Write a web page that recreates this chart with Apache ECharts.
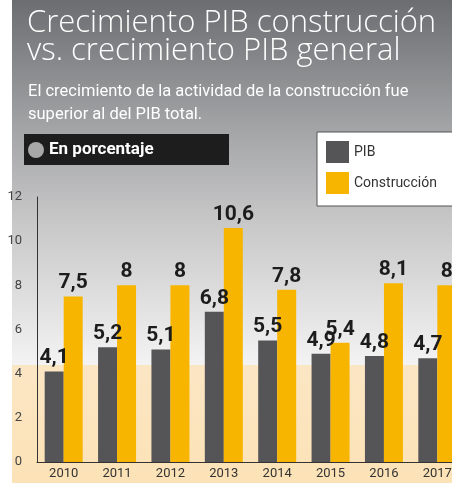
<!DOCTYPE html>
<html>
<head>
<meta charset="utf-8">
<script src="https://cdn.jsdelivr.net/npm/echarts@6/dist/echarts.min.js"></script>
<style>
  html, body { margin: 0; padding: 0; background: #fff; }
  #chart { width: 452px; height: 483px; }
</style>
</head>
<body>
<div id="chart"></div>
<script>
var years = ["2010", "2011", "2012", "2013", "2014", "2015", "2016", "2017"];
var pib = [4.1, 5.2, 5.1, 6.8, 5.5, 4.9, 4.8, 4.7];
var construccion = [7.5, 8, 8, 10.6, 7.8, 5.4, 8.1, 8];
var seriesNames = ["PIB", "Construcción"];

var narrow = "Roboto, sans-serif";

var myChart = echarts.init(document.getElementById("chart"));

function labelFmt(p) {
  return String(p.value).replace(".", ",");
}

var barLabel = {
  show: true,
  position: "top",
  distance: 3,
  formatter: labelFmt,
  fontFamily: narrow,
  fontWeight: "bold",
  fontSize: 21,
  color: "#1c1c1c"
};

var option = {
  backgroundColor: "#fff",
  animation: false,
  title: [
    {
      text: "Crecimiento PIB construcción\nvs. crecimiento PIB general",
      left: 22,
      top: 4,
      textStyle: {
        color: "#fff",
        fontFamily: "'Open Sans', sans-serif",
        fontWeight: 300,
        fontSize: 31,
        lineHeight: 28
      }
    },
    {
      text: "El crecimiento de la actividad de la construcción fue\nsuperior al del PIB total.",
      left: 23,
      top: 75,
      textStyle: {
        color: "#fff",
        fontFamily: narrow,
        fontWeight: "normal",
        fontSize: 16.5,
        lineHeight: 23
      }
    }
  ],
  legend: {
    data: seriesNames,
    orient: "vertical",
    left: 317,
    top: 132,
    icon: "rect",
    itemWidth: 23,
    itemHeight: 22,
    itemGap: 9,
    padding: [9, 40, 12, 9],
    backgroundColor: "#fff",
    borderColor: "#555",
    borderWidth: 1,
    textStyle: {
      fontFamily: narrow,
      fontSize: 14,
      color: "#333"
    }
  },
  graphic: [
    {
      type: "rect",
      z: -10,
      shape: { x: 12, y: 0, width: 440, height: 483 },
      style: {
        fill: new echarts.graphic.LinearGradient(0, 0, 0, 1, [
          { offset: 0, color: "#6c6d70" },
          { offset: 0.25, color: "#a0a1a3" },
          { offset: 0.45, color: "#c6c6c7" },
          { offset: 0.755, color: "#f3f3f3" },
          { offset: 0.756, color: "#fbe6c4" },
          { offset: 1, color: "#fce2b6" }
        ])
      }
    },
    {
      type: "group",
      left: 24,
      top: 134,
      children: [
        {
          type: "rect",
          shape: { x: 0, y: 0, width: 205, height: 31 },
          style: { fill: "#1d1d1d" }
        },
        {
          type: "circle",
          shape: { cx: 12, cy: 16, r: 8 },
          style: { fill: "#a8a8a8" }
        },
        {
          type: "text",
          x: 25,
          y: 16,
          style: {
            text: "En porcentaje",
            fill: "#fff",
            fontFamily: narrow,
            fontWeight: "bold",
            fontSize: 17,
            verticalAlign: "middle"
          }
        }
      ]
    }
  ],
  grid: {
    left: 37,
    top: 197,
    bottom: 21,
    width: 427,
    outerBoundsMode: "none",
    containLabel: false
  },
  xAxis: {
    type: "category",
    data: years,
    axisLine: { lineStyle: { color: "#333", width: 1 } },
    axisTick: { show: false },
    axisLabel: {
      fontFamily: narrow,
      fontSize: 13,
      color: "#333",
      margin: 5
    }
  },
  yAxis: {
    type: "value",
    min: 0,
    max: 12,
    interval: 2,
    axisLine: { show: true, lineStyle: { color: "#333", width: 1 } },
    axisTick: { show: false },
    splitLine: { show: false },
    axisLabel: {
      fontFamily: narrow,
      fontSize: 13,
      color: "#444",
      margin: 15
    }
  },
  series: [
    {
      name: seriesNames[0],
      type: "bar",
      data: pib,
      barWidth: 19,
      barGap: "0%",
      itemStyle: { color: "#555557" },
      label: barLabel
    },
    {
      name: seriesNames[1],
      type: "bar",
      data: construccion,
      barWidth: 19,
      itemStyle: { color: "#f7b500" },
      label: barLabel
    }
  ]
};

myChart.setOption(option);
</script>
</body>
</html>
